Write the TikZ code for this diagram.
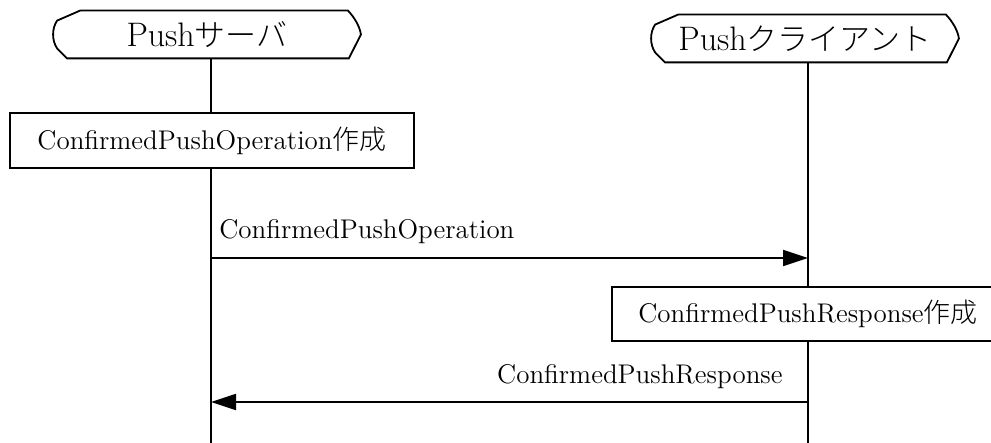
\documentclass[tikz,border=0pt]{standalone}
\usepackage{fontspec}
\newfontfamily\jp{Noto Sans CJK JP}[UprightFont={* Light}]
\usetikzlibrary{arrows.meta,calc}
\tikzset{
  head/.style={minimum width=153.5pt,minimum height=23.5pt,inner sep=0pt,font=\fontsize{15.5}{18}\selectfont},
  task/.style={draw,fill=white,line width=0.9pt,inner sep=0pt,font=\fontsize{13.5}{16}\selectfont},
  life/.style={line width=0.9pt},
  msg/.style={-{Triangle[length=12.5pt,width=8pt]},line width=0.9pt},
  lbl/.style={inner sep=0pt,font=\fontsize{13.5}{16}\selectfont}
}
\newcommand{\headlatin}[1]{{\fontsize{17}{18}\selectfont #1}}
\newcommand{\drawhead}[1]{%
  \draw[line width=0.9pt] ([xshift=13.5pt]#1.north west) -- ([xshift=-6.5pt]#1.north east)
    .. controls +(3pt,-3pt) and +(-0.5pt,4pt) .. (#1.east)
    -- ([xshift=-6pt]#1.south east) -- ([xshift=7pt]#1.south west)
    -- ([xshift=2pt,yshift=5pt]#1.south west)
    .. controls +(-2.67pt,4pt) and +(-2.67pt,-4pt) .. ([xshift=2pt,yshift=-5pt]#1.north west)
    -- cycle;}
\begin{document}
\begin{tikzpicture}[x=0.5pt,y=-0.5pt]
  \useasboundingbox (0,0) rectangle (991,443);
  % lifelines
  \node[head] (srv) at (207,34.5) {\headlatin{Push}{\jp サーバ}};
  \node[head] (cli) at (805,38.5) {\headlatin{Push}{\jp クライアント}};
  \drawhead{srv}
  \drawhead{cli}
  \coordinate (srvend) at (211,443);
  \coordinate (cliend) at (808,443);
  \draw[life] (srv.south -| srvend) -- (srvend);
  \draw[life] (cli.south -| cliend) -- (cliend);
  % tasks
  \node[task,minimum width=202pt,minimum height=27.5pt] (mkop) at (212,140.5) {ConfirmedPushOperation{\jp 作成}};
  \node[task,minimum width=196pt,minimum height=27pt] (mkres) at (808,314) {ConfirmedPushResponse{\jp 作成}};
  % messages
  \coordinate (op1) at (211,258);
  \coordinate (op2) at (808,258);
  \draw[msg] (op1) -- (op2);
  \node[lbl,anchor=base west] (opl) at (219,239) {ConfirmedPushOperation};
  \coordinate (res1) at (808,402);
  \coordinate (res2) at (211,402);
  \draw[msg] (res1) -- (res2);
  \node[lbl,anchor=base east] (resl) at (783,384) {ConfirmedPushResponse};
\end{tikzpicture}
\end{document}
